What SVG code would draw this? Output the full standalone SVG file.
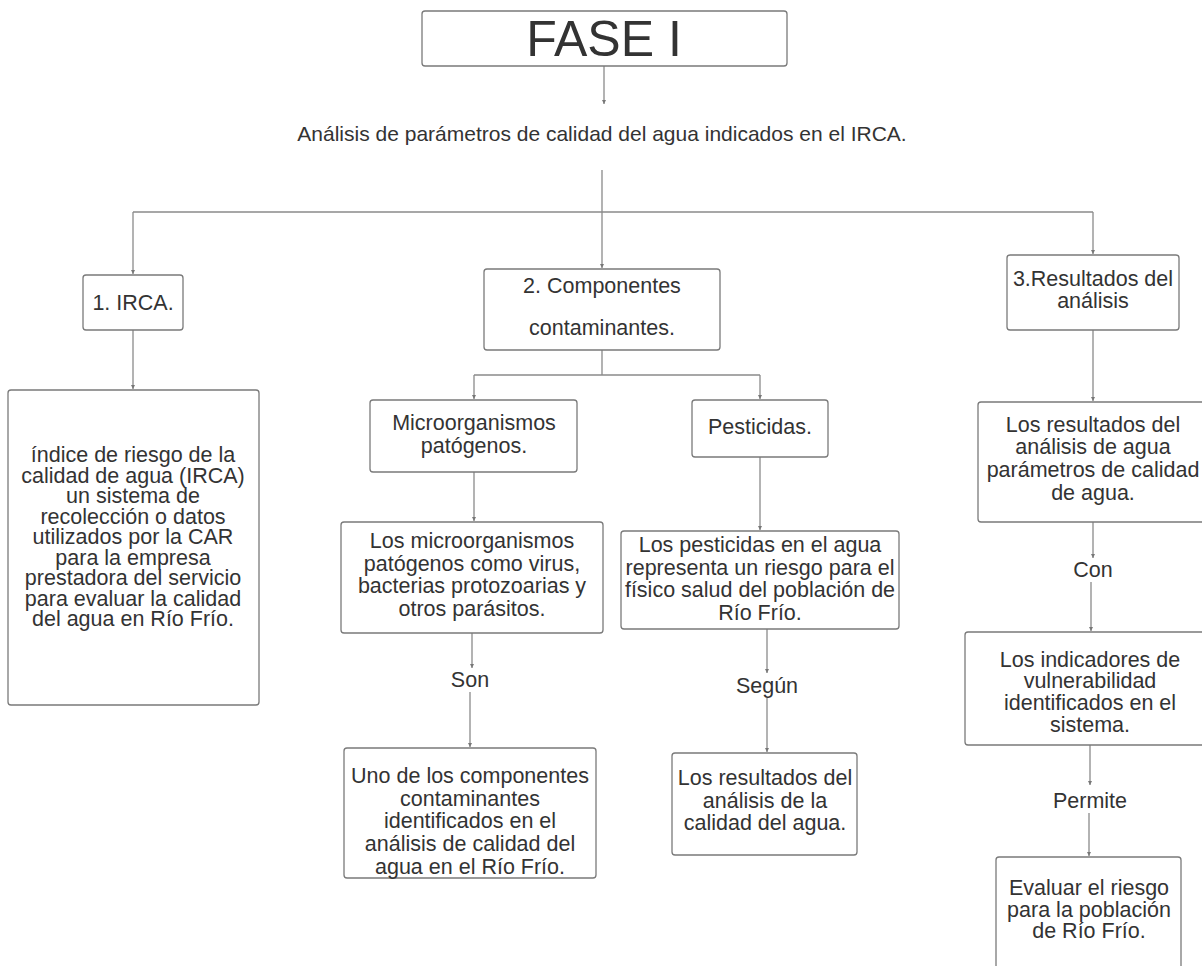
<svg xmlns="http://www.w3.org/2000/svg" width="1202" height="966" viewBox="0 0 1202 966">
<style>
.box{fill:#fff;stroke:#7a7a7a;stroke-width:1.3}
.t{font-family:"Liberation Sans",Arial,sans-serif;font-size:21.5px;fill:#333;text-anchor:middle}
.c{fill:none;stroke:#8a8a8a;stroke-width:1.3}
</style>
<defs>
<marker id="ah" viewBox="0 0 6 6" refX="6" refY="3" markerWidth="4" markerHeight="4" orient="auto" markerUnits="userSpaceOnUse">
<path d="M0,0 L6,3 L0,6 z" fill="#777"/>
</marker>
</defs>
<rect width="1202" height="966" fill="#fff"/>
<g id="connectors">
<line class="c" x1="604" y1="66" x2="604" y2="104" marker-end="url(#ah)"/>
<path class="c" d="M602,170 V212 M133,212 H1093"/>
<line class="c" x1="133" y1="212" x2="133" y2="274" marker-end="url(#ah)"/>
<line class="c" x1="602" y1="212" x2="602" y2="268" marker-end="url(#ah)"/>
<line class="c" x1="1093" y1="212" x2="1093" y2="254" marker-end="url(#ah)"/>
<line class="c" x1="133" y1="330" x2="133" y2="389" marker-end="url(#ah)"/>
<path class="c" d="M602,350 V375 M474,375 H760"/>
<line class="c" x1="474" y1="375" x2="474" y2="399" marker-end="url(#ah)"/>
<line class="c" x1="760" y1="375" x2="760" y2="399" marker-end="url(#ah)"/>
<line class="c" x1="474" y1="472" x2="474" y2="521" marker-end="url(#ah)"/>
<line class="c" x1="760" y1="457" x2="760" y2="530" marker-end="url(#ah)"/>
<line class="c" x1="472" y1="633" x2="472" y2="668" marker-end="url(#ah)"/>
<line class="c" x1="470" y1="692" x2="470" y2="747" marker-end="url(#ah)"/>
<line class="c" x1="767" y1="629" x2="767" y2="673" marker-end="url(#ah)"/>
<line class="c" x1="767" y1="698" x2="767" y2="752" marker-end="url(#ah)"/>
<line class="c" x1="1093" y1="330" x2="1093" y2="401" marker-end="url(#ah)"/>
<line class="c" x1="1093" y1="522" x2="1093" y2="558" marker-end="url(#ah)"/>
<line class="c" x1="1091" y1="582" x2="1091" y2="631" marker-end="url(#ah)"/>
<line class="c" x1="1090" y1="745" x2="1090" y2="785" marker-end="url(#ah)"/>
<line class="c" x1="1089" y1="813" x2="1089" y2="856" marker-end="url(#ah)"/>
<text class="t" x="470" y="687">Son</text>
<text class="t" x="767" y="693">Según</text>
<text class="t" x="1093" y="577">Con</text>
<text class="t" x="1090" y="808">Permite</text>
</g>
<g id="fase">
<rect class="box" x="422" y="11" width="365" height="55" rx="3"/>
<text class="t" x="604" y="56" style="font-size:50px">FASE I</text>
</g>
<g id="analisis">
<text class="t" x="602" y="141" style="font-size:21px">Análisis de parámetros de calidad del agua indicados en el IRCA.</text>
</g>
<g id="irca">
<rect class="box" x="83" y="275" width="100" height="55" rx="3"/>
<text class="t" x="133" y="310">1. IRCA.</text>
</g>
<g id="indice">
<rect class="box" x="8" y="390" width="251" height="315" rx="3"/>
<text class="t" x="133" y="462">índice de riesgo de la</text>
<text class="t" x="133" y="482.5">calidad de agua (IRCA)</text>
<text class="t" x="133" y="503">un sistema de</text>
<text class="t" x="133" y="523.5">recolección o datos</text>
<text class="t" x="133" y="544">utilizados por la CAR</text>
<text class="t" x="133" y="564.5">para la empresa</text>
<text class="t" x="133" y="585">prestadora del servicio</text>
<text class="t" x="133" y="605.5">para evaluar la  calidad</text>
<text class="t" x="133" y="626">del agua en Río Frío.</text>
</g>
<g id="componentes">
<rect class="box" x="484" y="269" width="236" height="81" rx="3"/>
<text class="t" x="602" y="293">2. Componentes</text>
<text class="t" x="602" y="335">contaminantes.</text>
</g>
<g id="micro">
<rect class="box" x="370" y="400" width="207" height="72" rx="3"/>
<text class="t" x="474" y="430">Microorganismos</text>
<text class="t" x="474" y="453">patógenos.</text>
</g>
<g id="pesticidas">
<rect class="box" x="692" y="400" width="136" height="57" rx="3"/>
<text class="t" x="760" y="434">Pesticidas.</text>
</g>
<g id="micro-desc">
<rect class="box" x="341" y="522" width="262" height="111" rx="3"/>
<text class="t" x="472" y="548">Los microorganismos</text>
<text class="t" x="472" y="571">patógenos como virus,</text>
<text class="t" x="472" y="593">bacterias protozoarias y</text>
<text class="t" x="472" y="616">otros parásitos.</text>
</g>
<g id="pest-desc">
<rect class="box" x="621" y="531" width="278" height="98" rx="3"/>
<text class="t" x="760" y="552">Los pesticidas en el agua</text>
<text class="t" x="760" y="575">representa un riesgo para el</text>
<text class="t" x="760" y="597">físico salud del población de</text>
<text class="t" x="760" y="620">Río Frío.</text>
</g>
<g id="uno">
<rect class="box" x="344" y="748" width="252" height="130" rx="3"/>
<text class="t" x="470" y="783">Uno de los componentes</text>
<text class="t" x="470" y="806">contaminantes</text>
<text class="t" x="470" y="828">identificados en el</text>
<text class="t" x="470" y="851">análisis de calidad del</text>
<text class="t" x="470" y="874">agua en el Río Frío.</text>
</g>
<g id="resultados-calidad">
<rect class="box" x="672" y="753" width="185" height="102" rx="3"/>
<text class="t" x="765" y="785">Los resultados del</text>
<text class="t" x="765" y="808">análisis de la</text>
<text class="t" x="765" y="830">calidad del agua.</text>
</g>
<g id="resultados">
<rect class="box" x="1007" y="255" width="172" height="75" rx="3"/>
<text class="t" x="1093" y="286">3.Resultados del</text>
<text class="t" x="1093" y="308">análisis</text>
</g>
<g id="resultados-agua">
<rect class="box" x="978" y="402" width="230" height="120" rx="3"/>
<text class="t" x="1093" y="432">Los resultados del</text>
<text class="t" x="1093" y="454">análisis de agua</text>
<text class="t" x="1093" y="477">parámetros de calidad</text>
<text class="t" x="1093" y="500">de agua.</text>
</g>
<g id="indicadores">
<rect class="box" x="965" y="632" width="250" height="113" rx="3"/>
<text class="t" x="1090" y="667">Los indicadores de</text>
<text class="t" x="1090" y="688">vulnerabilidad</text>
<text class="t" x="1090" y="710">identificados en el</text>
<text class="t" x="1090" y="732">sistema.</text>
</g>
<g id="evaluar">
<rect class="box" x="996" y="857" width="185" height="120" rx="3"/>
<text class="t" x="1089" y="895">Evaluar el riesgo</text>
<text class="t" x="1089" y="917">para la población</text>
<text class="t" x="1089" y="938">de Río Frío.</text>
</g>
</svg>
